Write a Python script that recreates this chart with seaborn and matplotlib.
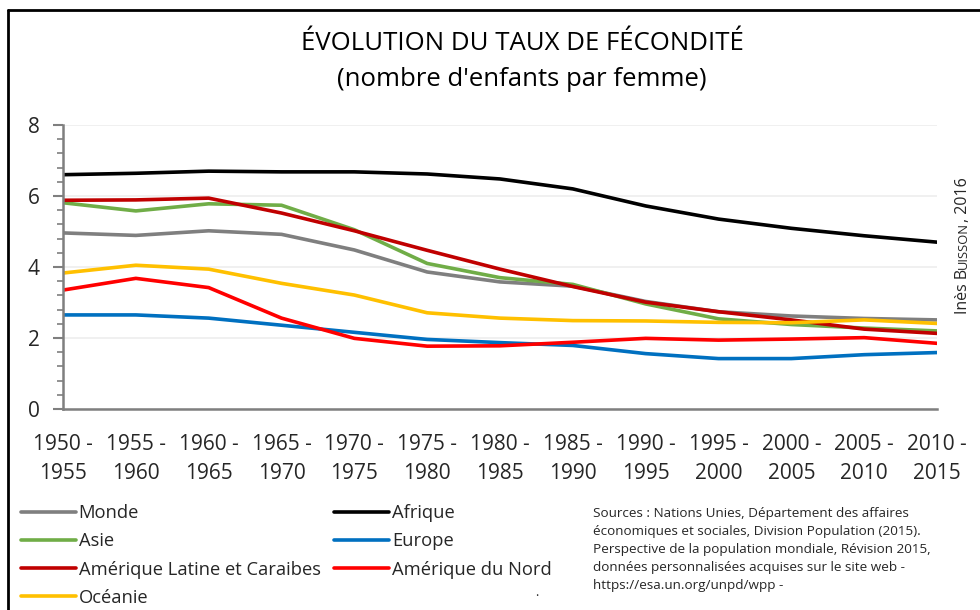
import matplotlib
matplotlib.use("Agg")
import matplotlib.pyplot as plt
import seaborn as sns
import pandas as pd
import numpy as np
from matplotlib.lines import Line2D
from matplotlib.ticker import MultipleLocator

periods = ["1950 -\n1955", "1955 -\n1960", "1960 -\n1965", "1965 -\n1970", "1970 -\n1975",
           "1975 -\n1980", "1980 -\n1985", "1985 -\n1990", "1990 -\n1995", "1995 -\n2000",
           "2000 -\n2005", "2005 -\n2010", "2010 -\n2015"]

monde = [4.96, 4.89, 5.02, 4.92, 4.48, 3.86, 3.58, 3.46, 3.03, 2.74, 2.62, 2.55, 2.51]
afrique = [6.60, 6.64, 6.70, 6.68, 6.68, 6.62, 6.48, 6.20, 5.72, 5.35, 5.09, 4.88, 4.70]
asie = [5.81, 5.58, 5.78, 5.74, 5.05, 4.10, 3.70, 3.51, 2.96, 2.54, 2.38, 2.28, 2.20]
europe = [2.65, 2.65, 2.56, 2.36, 2.16, 1.96, 1.87, 1.79, 1.56, 1.42, 1.42, 1.53, 1.59]
amlat = [5.88, 5.89, 5.94, 5.52, 5.02, 4.47, 3.94, 3.45, 3.01, 2.74, 2.51, 2.25, 2.13]
amnord = [3.35, 3.68, 3.42, 2.56, 1.99, 1.77, 1.78, 1.88, 1.99, 1.94, 1.97, 2.01, 1.85]
oceanie = [3.83, 4.05, 3.94, 3.54, 3.21, 2.71, 2.56, 2.49, 2.48, 2.44, 2.43, 2.51, 2.41]

series_names = ["Monde", "Afrique", "Asie", "Europe", "Amérique Latine et Caraibes",
                "Amérique du Nord", "Océanie"]
series_values = [monde, afrique, asie, europe, amlat, amnord, oceanie]
colors = ["#7F7F7F", "#000000", "#70AD47", "#0070C0", "#C00000", "#FF0000", "#FFC000"]

rows = []
for name, vals in zip(series_names, series_values):
    for i, v in enumerate(vals):
        rows.append({"idx": i, "val": v, "serie": name})
df = pd.DataFrame(rows)

sns.set_theme(style="white")
FONT = ["Open Sans", "DejaVu Sans"]
plt.rcParams["font.family"] = FONT

fig = plt.figure(figsize=(9.8, 6.1), dpi=100)
W, H = 980, 610
ax = fig.add_axes([63 / W, 1 - 409 / H, (937 - 63) / W, (409 - 125) / H])

sns.lineplot(data=df, x="idx", y="val", hue="serie", hue_order=series_names,
             palette=dict(zip(series_names, colors)), linewidth=2.6, ax=ax, legend=False)

ax.set_xlim(0, len(periods) - 1)
ax.set_ylim(0, 8)
ax.set_xlabel("")
ax.set_ylabel("")
ax.set_xticks(range(len(periods)))
ax.set_xticklabels(periods, fontsize=15, linespacing=1.5)
ax.yaxis.set_major_locator(MultipleLocator(2))
ax.yaxis.set_minor_locator(MultipleLocator(0.4))
ax.tick_params(axis="y", which="major", length=7, width=1.5, color="#7F7F7F",
               labelsize=15, pad=10, left=True)
ax.tick_params(axis="y", which="minor", length=4, width=1.2, color="#7F7F7F", left=True)
ax.tick_params(axis="x", length=0, pad=18)
ax.grid(axis="y", which="major", color="#EEEEEE", linewidth=1.2)
ax.set_axisbelow(True)
for s in ["top", "right"]:
    ax.spines[s].set_visible(False)
for s in ["left", "bottom"]:
    ax.spines[s].set_color("#7F7F7F")
    ax.spines[s].set_linewidth(1.8)

# Title
fig.text(522 / W, 1 - 43 / H, "ÉVOLUTION DU TAUX DE FÉCONDITÉ", ha="center", va="center",
         fontsize=18.5, color="black")
fig.text(522 / W, 1 - 79 / H, "(nombre d'enfants par femme)", ha="center", va="center",
         fontsize=18.5, color="black")

# Frame lines
fig.add_artist(Line2D([8 / W, 1], [1 - 10 / H, 1 - 10 / H], transform=fig.transFigure,
                      color="black", linewidth=2))
fig.add_artist(Line2D([8 / W, 8 / W], [0, 1 - 10 / H], transform=fig.transFigure,
                      color="black", linewidth=2))

# Legends
handles = {n: Line2D([], [], color=c, linewidth=2.6) for n, c in zip(series_names, colors)}
col1 = ["Monde", "Asie", "Amérique Latine et Caraibes", "Océanie"]
col2 = ["Afrique", "Europe", "Amérique du Nord"]
for names, x0 in [(col1, 21), (col2, 334)]:
    leg = fig.legend([handles[n] for n in names], names, loc="upper left",
                     bbox_to_anchor=(x0 / W, 1 - 504 / H), frameon=False, fontsize=13.2,
                     handlelength=3.0, handletextpad=0.15, labelspacing=0.56,
                     borderaxespad=0, borderpad=0)

fig.text(537 / W, 1 - 593 / H, ".", fontsize=9, ha="center", va="center")

# Sources
fig.text(593 / W, 1 - 507 / H,
         "Sources : Nations Unies, Département des affaires\n"
         "économiques et sociales, Division Population (2015).\n"
         "Perspective de la population mondiale, Révision 2015,\n"
         "données personnalisées acquises sur le site web -\n"
         "https://esa.un.org/unpd/wpp -",
         ha="left", va="top", fontsize=9.7, linespacing=1.5)

# Author (small caps imitation)
fig.canvas.draw()
r = fig.canvas.get_renderer()
x_auth = 963 / W
y_pos = 314
parts = [("Inès B", 11.5), ("UISSON", 9.3), (", 2016", 11.5)]
for txt, fs in parts:
    t = fig.text(x_auth, 1 - y_pos / H, txt, rotation=90, ha="center", va="bottom",
                 fontsize=fs, rotation_mode="default")
    bb = t.get_window_extent(renderer=r)
    y_pos -= bb.height
    if fs < 11:
        t.set_x(x_auth + 0.6 / W)

fig.savefig("out.png", dpi=100, facecolor="white")
